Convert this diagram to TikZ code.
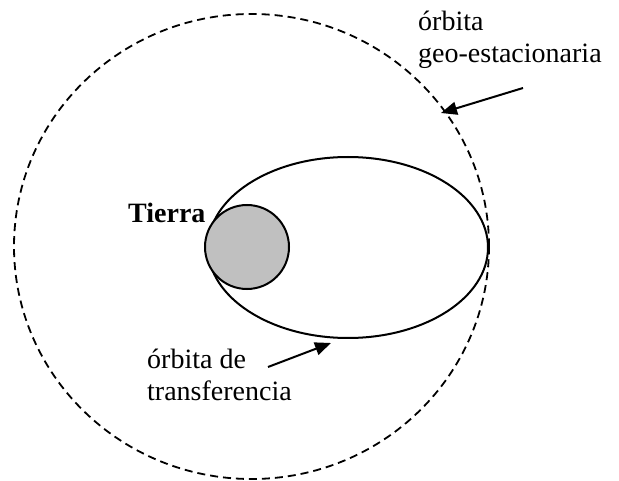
\documentclass[tikz,border=0pt]{standalone}
\usepackage{fontspec}
\setmainfont{Liberation Serif}
\usetikzlibrary{arrows.meta,positioning,shapes.geometric}
\definecolor{earthgray}{RGB}{192,192,192}

\begin{document}
\begin{tikzpicture}[
  x=1pt, y=-1pt,
  font=\fontsize{28}{32}\selectfont,
  geo/.style={draw, ellipse, line width=1.8pt, dash pattern=on 8pt off 5pt, inner sep=0pt, outer sep=0pt},
  orbit/.style={draw, ellipse, line width=2pt, inner sep=0pt, outer sep=0pt},
  planet/.style={draw, circle, line width=2pt, fill=earthgray, minimum size=84pt, inner sep=0pt},
  lbl/.style={inner sep=0pt, align=left, anchor=base west},
  pointer/.style={-{Triangle[length=16pt, width=13pt]}, line width=2pt}
]
\useasboundingbox (0,0) rectangle (619,481);

\node[geo, minimum width=475pt, minimum height=465pt] (geoorbit) at (251.5,246.5) {};
\node[orbit, minimum width=280pt, minimum height=181pt] (transfer) at (348,247.5) {};
\node[planet] (earth) at (247,247) {};

% base anchor sits on the last line
\node[lbl, font=\fontsize{28}{32}\selectfont\bfseries] (tierra) at (128,223) {Tierra};
\node[lbl] (geolabel) at (418,63) {órbita\\geo-estacionaria};
\node[lbl] (translabel) at (147,400) {órbita de\\transferencia};

\coordinate (geotail) at (523,88);
\coordinate (geotip) at (441,113);
\coordinate (transtail) at (268,367);
\coordinate (transtip) at (331,343);

\draw[pointer] (geotail) -- (geotip);
\draw[pointer] (transtail) -- (transtip);
\end{tikzpicture}
\end{document}
